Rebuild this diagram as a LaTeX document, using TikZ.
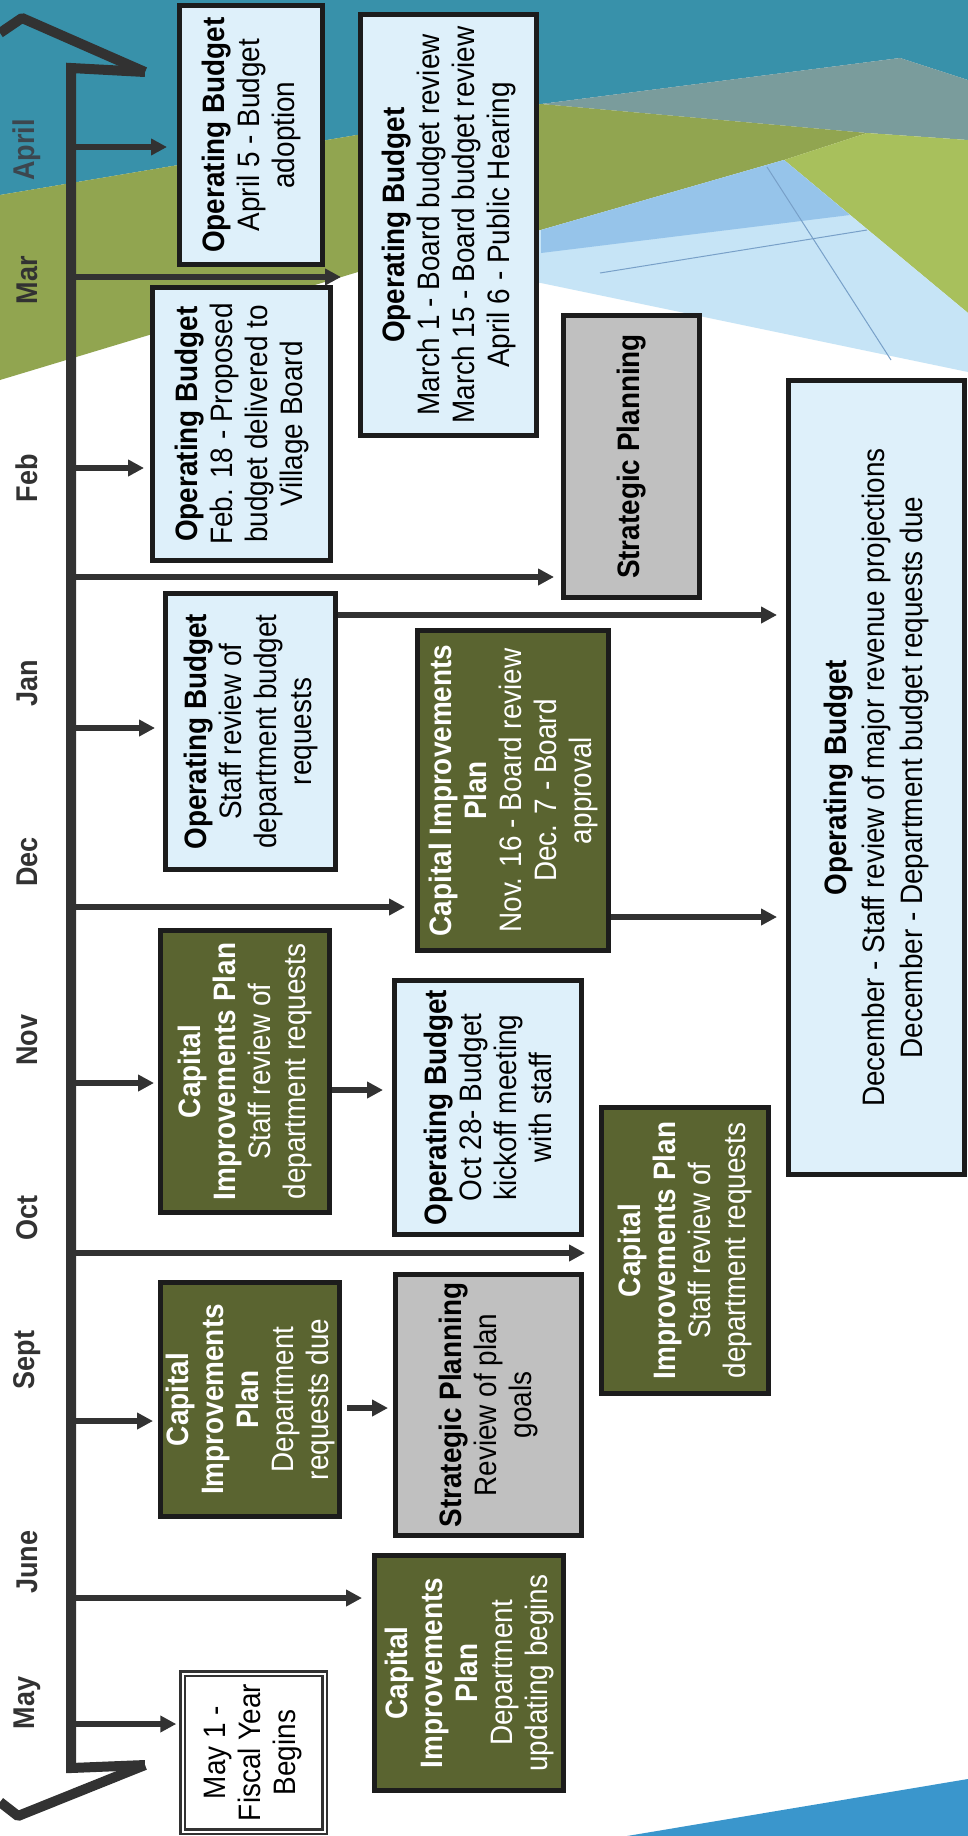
\documentclass[tikz,border=0pt]{standalone}
\usepackage{fontspec}
\setmainfont{Liberation Sans}[FakeStretch=0.9]
\newfontfamily\monthfont{Liberation Sans}[FakeStretch=0.9]
\usetikzlibrary{arrows.meta,calc}
\definecolor{teal1}{RGB}{56,145,170}
\definecolor{grayband}{RGB}{122,156,156}
\definecolor{olivebg}{RGB}{145,165,80}
\definecolor{ygreen}{RGB}{168,192,92}
\definecolor{bluemid}{RGB}{150,196,234}
\definecolor{bluelite}{RGB}{198,228,246}
\definecolor{bluethin}{RGB}{120,160,200}
\definecolor{wedge}{RGB}{58,150,204}
\definecolor{lbfill}{RGB}{222,240,250}
\definecolor{olfill}{RGB}{90,100,48}
\definecolor{spfill}{RGB}{192,192,192}
\definecolor{edge}{RGB}{28,28,28}
\definecolor{spinec}{RGB}{50,50,50}
\definecolor{aprtext}{RGB}{60,70,78}
\tikzset{
 box/.style={draw=edge, line width=5pt, rotate=90, align=center, inner sep=0pt,
   font=\fontsize{31}{35}\selectfont},
 ob/.style={box, fill=lbfill, text=black},
 obbig/.style={ob, font=\fontsize{31}{38}\selectfont},
 cip/.style={box, fill=olfill, text=white},
 sp/.style={box, fill=spfill, text=black},
 mb/.style={box, draw=spinec, fill=white, double=white, double distance=2pt, line width=2.5pt},
 month/.style={rotate=90, font=\monthfont\bfseries\fontsize{30}{32}\selectfont, text=spinec},
 arr/.style={draw=spinec, line width=6pt, -{Triangle[length=16pt,width=16pt]}},
}
\newcommand\mkbox[7]{\node[#2, minimum width={(#6-#5-5)*1pt}, minimum height={(#4-#3-5)*1pt}] (#1) at ({(#3+#4)/2},{-(#5+#6)/2}) {#7};}
\begin{document}
\begin{tikzpicture}[x=1pt,y=1pt]
\useasboundingbox (0,0) rectangle (968,-1836);
% background
\begin{scope}
\clip (0,0) rectangle (968,-1836);
\fill[white] (0,0) rectangle (968,-1836);
\fill[teal1] (0,0) -- (968,0) -- (968,-80) -- (900,-58) -- (541,-104) -- (0,-195) -- cycle;
\fill[grayband] (541,-104) -- (900,-58) -- (968,-80) -- (968,-140) -- (867,-133) -- cycle;
\fill[olivebg] (0,-195) -- (541,-104) -- (867,-133) -- (784,-160) -- (541,-230) -- (358,-272) -- (0,-380) -- cycle;
\fill[ygreen] (784,-160) -- (867,-133) -- (968,-140) -- (968,-313) -- cycle;
\fill[bluelite] (358,-272) -- (541,-230) -- (784,-160) -- (968,-313) -- (968,-372) -- (541,-283) -- (358,-277) -- cycle;
\fill[bluemid] (541,-230) -- (784,-160) -- (850,-215) -- (541,-253) -- cycle;
\draw[bluethin, line width=1pt] (600,-273) -- (867,-230);
\draw[bluethin, line width=1pt] (767,-167) -- (891,-360);
\fill[wedge] (627,-1836) -- (968,-1779) -- (968,-1836) -- cycle;
\end{scope}
% months
\node[month, text=aprtext] (mApr) at (27,-150) {April};
\node[month] (mMar) at (27,-280) {Mar};
\node[month] (mFeb) at (27,-478) {Feb};
\node[month] (mJan) at (27,-683) {Jan};
\node[month] (mDec) at (27,-862) {Dec};
\node[month] (mNov) at (27,-1040) {Nov};
\node[month] (mOct) at (27,-1218) {Oct};
\node[month] (mSep) at (27,-1360) {Sept};
\node[month] (mJun) at (27,-1562) {June};
\node[month] (mMay) at (27,-1703) {May};
% boxes
\mkbox{apr}{ob}{177}{325}{3}{267}{\textbf{Operating Budget}\\April 5 - Budget\\adoption}
\mkbox{mar}{ob}{358}{539}{12}{438}{\textbf{Operating Budget}\\March 1 - Board budget review\\March 15 - Board budget review\\April 6 - Public Hearing}
\mkbox{feb}{ob}{150}{333}{285}{563}{\textbf{Operating Budget}\\Feb. 18 - Proposed\\budget delivered to\\Village Board}
\mkbox{spT}{sp}{561}{702}{313}{600}{\textbf{Strategic Planning}}
\mkbox{jan}{ob}{163}{338}{591}{872}{\textbf{Operating Budget}\\Staff review of\\department budget\\requests}
\mkbox{big}{obbig}{786}{967}{378}{1177}{\textbf{Operating Budget}\\December - Staff review of major revenue projections\\December - Department budget requests due}
\mkbox{cipD}{cip}{415}{611}{628}{953}{\textbf{Capital Improvements}\\\textbf{Plan}\\Nov. 16 - Board review\\Dec. 7 - Board\\approval}
\mkbox{cipN}{cip}{158}{332}{928}{1215}{\textbf{Capital}\\\textbf{Improvements Plan}\\Staff review of\\department requests}
\mkbox{oct}{ob}{392}{584}{978}{1237}{\textbf{Operating Budget}\\Oct 28- Budget\\kickoff meeting\\with staff}
\mkbox{cipS}{cip}{158}{342}{1280}{1519}{\textbf{Capital}\\\textbf{Improvements}\\\textbf{Plan}\\Department\\requests due}
\mkbox{spS}{sp}{393}{584}{1272}{1538}{\textbf{Strategic Planning}\\Review of plan\\goals}
\mkbox{cipO}{cip}{599}{771}{1105}{1396}{\textbf{Capital}\\\textbf{Improvements Plan}\\Staff review of\\department requests}
\mkbox{cipJ}{cip}{372}{566}{1553}{1793}{\textbf{Capital}\\\textbf{Improvements}\\\textbf{Plan}\\Department\\updating begins}
\mkbox{may}{mb}{180}{327}{1671}{1834}{May 1 -\\Fiscal Year\\Begins}
% spine points
\coordinate (tApr) at (71,-147);
\coordinate (tMar) at (71,-277);
\coordinate (tFeb) at (71,-468);
\coordinate (tFeb2) at (71,-577);
\coordinate (tJan) at (71,-728);
\coordinate (tDec) at (71,-907);
\coordinate (tNov) at (71,-1083);
\coordinate (tOct) at (71,-1253);
\coordinate (tSep) at (71,-1421);
\coordinate (tJun) at (71,-1598);
\coordinate (tMay) at (71,-1724);
% arrows from spine
\draw[arr, shorten >=10pt] (tApr) -- (tApr -| apr.north);
\draw[arr, shorten >=17pt] (tMar) -- (tMar -| mar.north);
\draw[arr, shorten >=6pt] (tFeb) -- (tFeb -| feb.north);
\draw[arr, shorten >=7pt] (tFeb2) -- (tFeb2 -| spT.north);
\draw[arr, shorten >=8pt] (tJan) -- (tJan -| jan.north);
\draw[arr, shorten >=10pt] (tDec) -- (tDec -| cipD.north);
\draw[arr, shorten >=4pt] (tNov) -- (tNov -| cipN.north);
\draw[arr, shorten >=14pt] (tOct) -- (tOct -| cipO.north);
\draw[arr, shorten >=5pt] (tSep) -- (tSep -| cipS.north);
\draw[arr, shorten >=10pt] (tJun) -- (tJun -| cipJ.north);
\draw[arr, shorten >=5pt] (tMay) -- (tMay -| may.north);
% box to box
\draw[arr, shorten >=9pt] (jan.south |- 0,-615) -- (big.north |- 0,-615);
\draw[arr, shorten >=9pt] (cipD.south |- 0,-917) -- (big.north |- 0,-917);
\draw[arr, shorten >=9pt] (cipN.south |- 0,-1090) -- (oct.north |- 0,-1090);
\draw[arr, shorten >=5pt, shorten <=5pt] (cipS.south |- 0,-1408) -- (spS.north |- 0,-1408);
% spine with arrow-like ends
\draw[spinec, line width=10pt, line join=bevel] (0,-33) -- (22,-18) -- (145,-72);
\draw[spinec, line width=10pt, line join=miter] (145,-72) -- (71,-68) -- (71,-1768) -- (145,-1765);
\draw[spinec, line width=10pt, line join=bevel] (145,-1765) -- (18,-1816) -- (0,-1802);
\end{tikzpicture}
\end{document}
